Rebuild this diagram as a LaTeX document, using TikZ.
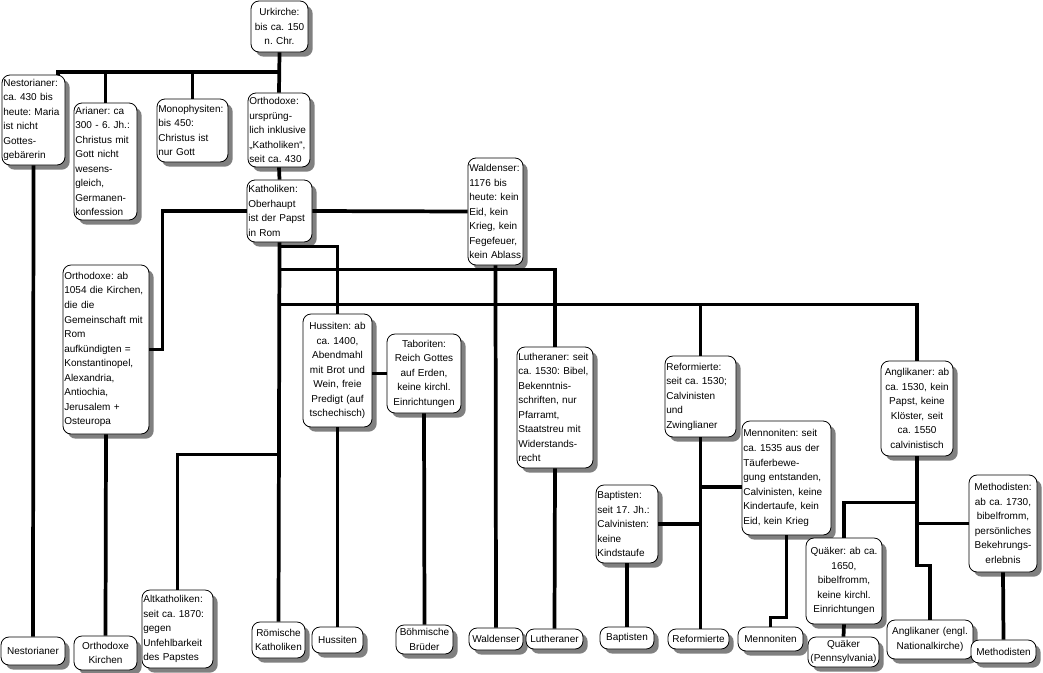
\documentclass[tikz,border=0pt]{standalone}
\usepackage{fontspec}
\setmainfont{Liberation Sans}
\usetikzlibrary{shadows}

\tikzset{
  box/.style={draw, line width=0.6pt, rounded corners=6pt, fill=white,
    inner xsep=1pt, inner ysep=1pt, font=\fontsize{7.5}{10.9}\selectfont\frenchspacing,
    drop shadow={shadow xshift=3.5pt, shadow yshift=-3.5pt, fill=black!50, opacity=1}},
  sz/.style 2 args={text width=#1*0.75pt-2pt, minimum height=#2*0.75pt},
  link/.style={line width=2.8pt, line join=miter}
}

\begin{document}
\begin{tikzpicture}[x=0.75pt, y=-0.75pt]
  \fill [white] (0,0) rectangle (1043,672);
  \useasboundingbox (0,0) rectangle (1043,672);

  % early church
  \node[box, sz={57}{51}, align=center] (urk) at (279.5,26.5) {Urkirche:\\bis ca. 150\\n. Chr.};
  \node[box, sz={63}{90}, align=left] (nest) at (33.5,120) {Nestorianer:\\ca. 430 bis\\heute: Maria\\ist nicht\\Gottes-\\gebärerin};
  \node[box, sz={63}{117}, align=left] (arian) at (105.5,161.5) {Arianer: ca\\300 - 6. Jh.:\\Christus mit\\Gott nicht\\wesens-\\gleich,\\Germanen-\\konfession};
  \node[box, sz={71}{63}, align=left] (mono) at (192.5,130.5) {Monophysiten:\\bis 450:\\Christus ist\\nur Gott};
  \node[box, sz={62}{74}, align=left] (orth) at (279,130) {Orthodoxe:\\ursprüng-\\lich inklusive\\„Katholiken“,\\seit ca. 430};
  \node[box, sz={65}{62}, align=left] (kath) at (279.5,211) {Katholiken:\\Oberhaupt\\ist der Papst\\in Rom};
  \node[box, sz={55}{107}, align=left] (wald) at (495.5,211.5) {Waldenser:\\1176 bis\\heute: kein\\Eid, kein\\Krieg, kein\\Fegefeuer,\\kein Ablass};
  \node[box, sz={86}{169}, align=left] (orth2) at (106,349.5) {Orthodoxe: ab\\1054 die Kirchen,\\die die\\Gemeinschaft mit\\Rom\\aufkündigten =\\Konstantinopel,\\Alexandria,\\Antiochia,\\Jerusalem +\\Osteuropa};

  % middle ages and reformation
  \node[box, sz={69}{113}, align=center] (huss) at (337.5,370.5) {Hussiten: ab\\ca. 1400,\\Abendmahl\\mit Brot und\\Wein, freie\\Predigt (auf\\tschechisch)};
  \node[box, sz={74}{79}, align=center] (tab) at (424,373.5) {Taboriten:\\Reich Gottes\\auf Erden,\\keine kirchl.\\Einrichtungen};
  \node[box, sz={76}{121}, align=left] (luth) at (555,407.5) {Lutheraner: seit\\ca. 1530: Bibel,\\Bekenntnis-\\schriften, nur\\Pfarramt,\\Staatstreu mit\\Widerstands-\\recht};
  \node[box, sz={71}{81}, align=left] (ref) at (700.5,396.5) {Reformierte:\\seit ca. 1530;\\Calvinisten\\und\\Zwinglianer};
  \node[box, sz={89}{114}, align=left] (menn) at (786.5,478) {Mennoniten: seit\\ca. 1535 aus der\\Täuferbewe-\\gung entstanden,\\Calvinisten, keine\\Kindertaufe, kein\\Eid, kein Krieg};
  \node[box, sz={62}{78}, align=left] (bapt) at (627,524) {Baptisten:\\seit 17. Jh.:\\Calvinisten:\\keine\\Kindstaufe};
  \node[box, sz={72}{95}, align=center] (angl) at (917,408.5) {Anglikaner: ab\\ca. 1530, kein\\Papst, keine\\Klöster, seit\\ca. 1550\\calvinistisch};
  \node[box, sz={76}{86}, align=center] (quak) at (844,581) {Quäker: ab ca.\\1650,\\bibelfromm,\\keine kirchl.\\Einrichtungen};
  \node[box, sz={68}{97}, align=center] (meth) at (1003,523.5) {Methodisten:\\ab ca. 1730,\\bibelfromm,\\persönliches\\Bekehrungs-\\erlebnis};
  \node[box, sz={71}{78}, align=left] (alt) at (177.5,629) {Altkatholiken:\\seit ca. 1870:\\gegen\\Unfehlbarkeit\\des Papstes};

  % churches today
  \node[box, sz={64}{28}, align=center] (lnest) at (33,651) {Nestorianer};
  \node[box, sz={63}{34}, align=center] (lorth) at (105.5,653) {Orthodoxe\\Kirchen};
  \node[box, sz={53}{36}, align=center] (lrk) at (278.5,640) {Römische\\Katholiken};
  \node[box, sz={51}{26}, align=center] (lhuss) at (337.5,640) {Hussiten};
  \node[box, sz={57}{29}, align=center] (lbb) at (424.5,639.5) {Böhmische\\Brüder};
  \node[box, sz={54}{22}, align=center] (lwald) at (496,639) {Waldenser};
  \node[box, sz={57}{20}, align=center] (lluth) at (554.5,639) {Lutheraner};
  \node[box, sz={54}{22}, align=center] (lbapt) at (627,638) {Baptisten};
  \node[box, sz={61}{20}, align=center] (lref) at (698.5,639) {Reformierte};
  \node[box, sz={65}{24}, align=center] (lmenn) at (770.5,639) {Mennoniten};
  \node[box, sz={71}{30}, align=center] (lquak) at (843.5,652) {Quäker\\(Pennsylvania)};
  \node[box, sz={86}{39}, align=center] (langl) at (930,639.5) {Anglikaner (engl.\\Nationalkirche)};
  \node[box, sz={65}{23}, align=center] (lmeth) at (1003.5,651.5) {Methodisten};

  % connectors
  \coordinate (bar) at (58,72);
  \draw[link] (urk.south) -- (orth.north);
  \draw[link] (bar |- nest.north) -- (bar) -- (bar -| urk.south);
  \draw[link] (arian.north) -- (arian.north |- bar);
  \draw[link] (mono.north) -- (mono.north |- bar);
  \draw[link] (orth.south) -- (kath.north);
  \draw[link] (nest.south) -- (lnest.north);

  \draw[link] (kath.west) -- ++(-84,0) |- (orth2.east);
  \draw[link] (orth2.south) -- (lorth.north);
  \draw[link] (kath.east) -- (wald.west);
  \draw[link] (wald.south) -- (lwald.north);
  \draw[link] (kath.south) -- (lrk.north);
  \draw[link] (alt.north) -- ++(0,-135) coordinate (altk) -- (altk -| lrk.north);

  \draw[link] (kath.south) ++(0,4) -| (huss.north);
  \draw[link] (tab.west -| huss.east) -- (tab.west);
  \draw[link] (huss.south) -- (lhuss.north);
  \draw[link] (tab.south) -- (lbb.north);

  \draw[link] (kath.south) ++(0,27) -| (luth.north);
  \draw[link] (luth.south) -- (lluth.north);

  \draw[link] (kath.south) ++(0,62) coordinate (bar2) -| (angl.north);
  \draw[link] (ref.north) -- (ref.north |- bar2);
  \draw[link] (ref.south) -- (ref.south |- lref.north);
  \draw[link] (menn.west) ++(0,9) coordinate (mw) -- (mw -| ref.south);
  \draw[link] (bapt.east) -- (bapt.east -| ref.south);
  \draw[link] (bapt.south) -- (lbapt.north);
  \draw[link] (menn.south) -- ++(0,82) -| (lmenn.north);

  \draw[link] (angl.south) -- ++(0,109) -| (langl.north);
  \draw[link] (angl.south) ++(0,46) -| (quak.north);
  \draw[link] (meth.west) -- (meth.west -| angl.south);
  \draw[link] (quak.south) -- (lquak.north);
  \draw[link] (meth.south) -- (lmeth.north);
\end{tikzpicture}
\end{document}
